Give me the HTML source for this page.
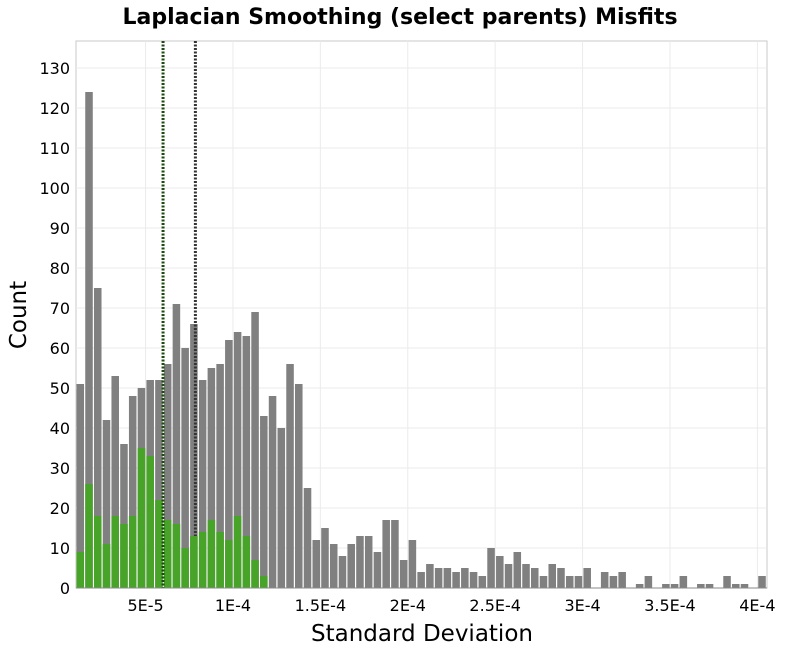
<!DOCTYPE html>
<html><head><meta charset="utf-8"><style>
body{margin:0;background:#fff;font-family:"Liberation Sans","DejaVu Sans",sans-serif}
</style></head><body>
<svg id="chart" width="800" height="650" xmlns="http://www.w3.org/2000/svg" font-family="DejaVu Sans, Liberation Sans, sans-serif">
<text x="400" y="24" text-anchor="middle" font-size="22" font-weight="bold">Laplacian Smoothing (select parents) Misfits</text>
<rect x="76" y="41" width="691" height="547" fill="#fff" stroke="#c8c8c8"/>
<g id="grid"></g><g id="grey"></g><g id="vl1"></g><g id="green"></g><g id="vl2"></g><g id="axes"></g>
<text x="422" y="641" text-anchor="middle" font-size="23">Standard Deviation</text>
<text transform="translate(26,315) rotate(-90)" text-anchor="middle" font-size="23">Count</text>
</svg>
<script>
const allCounts=[51,124,75,42,53,36,48,50,52,52,56,71,60,66,52,55,56,62,64,63,69,43,48,40,56,51,25,12,15,11,8,11,13,13,9,17,17,7,12,4,6,5,5,4,5,4,3,10,8,6,9,6,5,3,6,5,3,3,5,0,4,3,4,0,1,3,0,1,1,3,0,1,1,0,3,1,1,0,3];
const parentCounts=[9,26,18,11,18,16,18,35,33,22,17,16,10,13,14,17,14,12,18,13,7,3];
const yTicks=[0,10,20,30,40,50,60,70,80,90,100,110,120,130];
const xTicks=[5e-5,1e-4,1.5e-4,2e-4,2.5e-4,3e-4,3.5e-4,4e-4];
const xTickLabels=["5E-5","1E-4","1.5E-4","2E-4","2.5E-4","3E-4","3.5E-4","4E-4"];
const binStart=1.02e-5, binWidth=5e-6;
const markerLines=[6.0e-5,7.85e-5];
const NS="http://www.w3.org/2000/svg";
const X0=76,X1=767,Y0=588,Y1=41,xmin=1.02e-5,xmax=4.055e-4,ymax=136.75;
const xs=v=>X0+(v-xmin)/(xmax-xmin)*(X1-X0);
const ys=v=>Y0-v/ymax*(Y0-Y1);
function mk(tag,attrs,parent){const e=document.createElementNS(NS,tag);for(const k in attrs)e.setAttribute(k,attrs[k]);document.getElementById(parent).appendChild(e);return e;}
yTicks.forEach(t=>{
 const g=mk('line',{x1:X0,x2:X1,y1:ys(t),y2:ys(t),stroke:'#ebebeb'},'grid');
 
 
 const l=mk('text',{x:70,y:ys(t)+6,'text-anchor':'end','font-size':'16'},'axes');
 l.textContent=t;
 
 
});
xTicks.forEach((t,i)=>{
 const g=mk('line',{x1:xs(t),x2:xs(t),y1:Y1,y2:Y0,stroke:'#ebebeb'},'grid');
 
 
 const l=mk('text',{x:xs(t),y:611,'text-anchor':'middle','font-size':'16'},'axes');
 l.textContent=xTickLabels[i];
 
 
});
function bars(arr,parent,color,name){
 arr.forEach((c,i)=>{if(!c)return;
  const a=xs(binStart+i*binWidth),b=xs(binStart+(i+1)*binWidth);
  const r=mk('rect',{x:a+0.5,width:b-a-1.2,y:ys(c),height:Y0-ys(c),fill:color},parent);
  
  
 });
}
bars(allCounts,'grey','#808080','bar-all');
bars(parentCounts,'green','#48a428','bar-parents');
const v1=mk('line',{x1:xs(markerLines[1]),x2:xs(markerLines[1]),y1:Y1,y2:Y0,stroke:'#333','stroke-width':3,'stroke-dasharray':'2,1.5'},'vl1');


const v2=mk('line',{x1:xs(markerLines[0]),x2:xs(markerLines[0]),y1:Y1,y2:Y0,stroke:'#1e4a10','stroke-width':3,'stroke-dasharray':'2,1.5'},'vl2');


const ax=mk('line',{x1:X0,x2:X1,y1:Y0,y2:Y0,stroke:'#888'},'axes');


</script>
</body></html>
